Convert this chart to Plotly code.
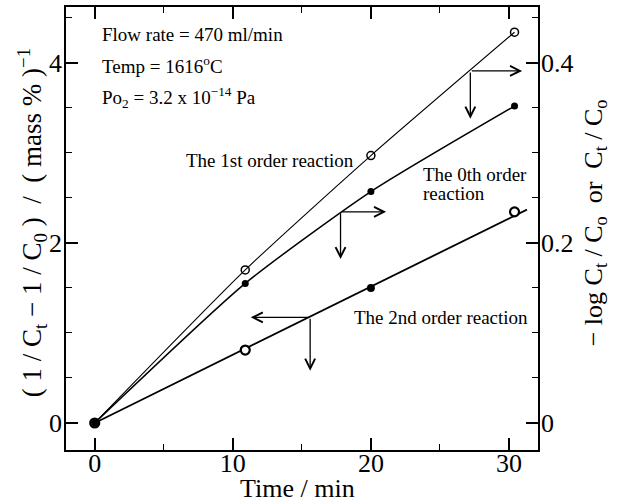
import plotly.graph_objects as go

# Sampling times (min)
time_min = [0, 10.9, 20.0, 30.4]

# Right-axis quantities: -log Ct/Co (1st order) and Ct/Co based (0th order)
first_order = [0, 0.170, 0.297, 0.434]
zeroth_order = [0, 0.155, 0.257, 0.352]

# Left-axis quantity: 1/Ct - 1/C0 (2nd order)
second_order = [0, 0.81, 1.50, 2.345]
second_fill = [False, False, True, False]

# Straight-line fit for the 2nd order data
fit2_t = [0, 31.3]
fit2_y = [0, 2.37]

# Axis ticks
x_ticks = [0, 10, 20, 30]
y_left_ticks = [0, 2, 4]
y_right_ticks = [0, 0.2, 0.4]
y_right_labels = ["0", "0.2", "0.4"]

# Arrows: (corner x, corner y, horizontal tip x, vertical tip y) in left-axis units
arrows = {
    "1st": (27.2, 3.91, 30.95, 3.38),
    "0th": (17.8, 2.345, 21.1, 1.82),
    "2nd": (15.6, 1.173, 11.3, 0.58),
}

SERIF = "Liberation Serif, Times New Roman, serif"
X_RANGE = [-2.08, 32.1]
Y_RANGE = [-0.30, 4.62]

fig = go.Figure()

fig.add_trace(go.Scatter(
    x=time_min, y=first_order, yaxis="y2", mode="lines+markers",
    line=dict(color="black", width=1.1, shape="spline", smoothing=0.6),
    marker=dict(symbol="circle-open", size=8, color="black", line=dict(width=1.5)),
    showlegend=False))

fig.add_trace(go.Scatter(
    x=time_min, y=zeroth_order, yaxis="y2", mode="lines+markers",
    line=dict(color="black", width=1.5, shape="spline", smoothing=0.6),
    marker=dict(symbol="circle", size=7, color="black"),
    showlegend=False))

fig.add_trace(go.Scatter(
    x=fit2_t, y=fit2_y, mode="lines",
    line=dict(color="black", width=1.8), showlegend=False))

# 2nd order points: filled dots, then white-centred rings drawn on top
open_pts = [(t, v) for t, v, f in zip(time_min, second_order, second_fill) if not f]
fill_pts = [(t, v) for t, v, f in zip(time_min, second_order, second_fill) if f]
fig.add_trace(go.Scatter(
    x=[p[0] for p in fill_pts], y=[p[1] for p in fill_pts], mode="markers",
    marker=dict(symbol="circle", size=8, color="black"),
    showlegend=False))
fig.add_trace(go.Scatter(
    x=[p[0] for p in open_pts], y=[p[1] for p in open_pts], mode="markers",
    marker=dict(symbol="circle", size=9, color="white",
                line=dict(width=2.2, color="black")),
    showlegend=False))

annotations = []
for cx, cy, hx, vy in arrows.values():
    for tx, ty in ((hx, cy), (cx, vy)):
        annotations.append(dict(
            x=tx, y=ty, ax=cx, ay=cy, xref="x", yref="y", axref="x", ayref="y",
            text="", showarrow=True, arrowhead=5, arrowsize=1.5, arrowwidth=1.3,
            arrowcolor="black", standoff=0, startstandoff=0))

def label(text, x, y, size=19, xanchor="left", **kw):
    annotations.append(dict(text=text, x=x, y=y, xref="x", yref="y", showarrow=False,
                            xanchor=xanchor, yanchor="middle",
                            font=dict(family=SERIF, size=size, color="black"), **kw))

label("Flow rate = 470 ml/min", 0.35, 4.32)
label("Temp = 1616<sup>o</sup>C", 0.35, 3.98)
label("Po<sub>2</sub> = 3.2 x 10<sup>\u221214</sup> Pa", 0.35, 3.62)
label("The 1st order reaction", 6.5, 2.92)
label("The 0th order", 23.6, 2.76)
label("reaction", 23.6, 2.55)
label("The 2nd order reaction", 18.6, 1.17)

# Axis titles
annotations.append(dict(text="Time / min", xref="paper", yref="paper", x=0.49, y=-0.086,
                        showarrow=False, xanchor="center", yanchor="middle",
                        font=dict(family=SERIF, size=26, color="black")))
annotations.append(dict(text="( 1 / C<sub>t</sub> \u2212 1 / C<sub>0</sub> )  /  ( mass % )<sup>\u22121</sup>",
                        xref="paper", yref="paper", x=-0.072, y=0.512, textangle=-90,
                        showarrow=False, xanchor="center", yanchor="middle",
                        font=dict(family=SERIF, size=27, color="black")))
annotations.append(dict(text="\u2212 log C<sub>t</sub> / C<sub>o</sub>  or  C<sub>t</sub> / C<sub>o</sub>",
                        xref="paper", yref="paper", x=1.121, y=0.512, textangle=-90,
                        showarrow=False, xanchor="center", yanchor="middle",
                        font=dict(family=SERIF, size=26, color="black")))

axis_common = dict(showgrid=False, zeroline=False, showline=True, linecolor="black",
                   linewidth=1.6, ticks="inside", ticklen=12, tickwidth=1.5,
                   tickcolor="black", tickfont=dict(family=SERIF, size=26, color="black"))

fig.update_layout(
    width=625, height=503,
    margin=dict(l=66, r=87, t=5, b=53),
    plot_bgcolor="white", paper_bgcolor="white",
    xaxis=dict(range=X_RANGE, tickvals=x_ticks, mirror="ticks", ticklabelstandoff=-11,
               minor=dict(dtick=5, tick0=0, ticks="inside", ticklen=6, tickwidth=1.2,
                          tickcolor="black"),
               **axis_common),
    yaxis=dict(range=Y_RANGE, tickvals=y_left_ticks, ticklabelstandoff=-3,
               minor=dict(dtick=0.5, tick0=0, ticks="inside", ticklen=6, tickwidth=1.2,
                          tickcolor="black"),
               **axis_common),
    yaxis2=dict(range=[v / 10 for v in Y_RANGE], tickvals=y_right_ticks,
                ticktext=y_right_labels, overlaying="y", side="right", anchor="x",
                ticklabelstandoff=-4,
                minor=dict(dtick=0.05, tick0=0, ticks="inside", ticklen=6, tickwidth=1.2,
                           tickcolor="black"),
                **axis_common),
    annotations=annotations,
)

fig.write_html("out.html")
